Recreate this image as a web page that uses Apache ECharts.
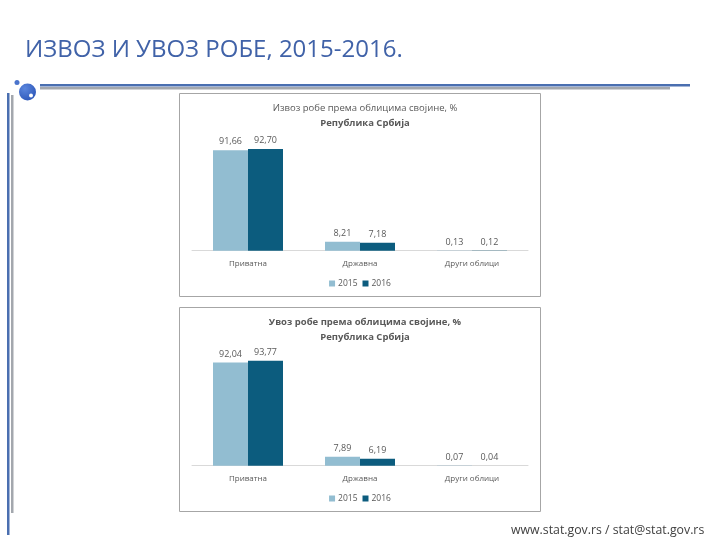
<!DOCTYPE html>
<html>
<head>
<meta charset="utf-8">
<script src="https://cdn.jsdelivr.net/npm/echarts@6/dist/echarts.min.js"></script>
<style>
html,body{margin:0;padding:0;background:#fff;}
#c{width:720px;height:540px;}
</style>
</head>
<body>
<div id="c"></div>
<script>
const categories = ['Приватна', 'Државна', 'Други облици'];
const seriesNames = ['2015', '2016'];
const export2015 = [91.66, 8.21, 0.13];
const export2016 = [92.70, 7.18, 0.12];
const import2015 = [92.04, 7.89, 0.07];
const import2016 = [93.77, 6.19, 0.04];

const C15 = '#92bdd1';
const C16 = '#0c5c7e';
const TXT = '#595959';
const FONT = '"Open Sans","Liberation Sans",sans-serif';

const chart = echarts.init(document.getElementById('c'));

function fmt(p){ return p.value.toFixed(2).replace('.', ','); }

function barSeries(name, data, idx, color){
  return {
    name: name, type: 'bar', data: data,
    xAxisIndex: idx, yAxisIndex: idx,
    barGap: '0%', barCategoryGap: '37.5%',
    itemStyle: {color: color},
    label: {show: true, position: 'top', distance: 4, formatter: fmt,
            color: TXT, fontSize: 9, fontFamily: FONT},
    emphasis: {disabled: true},
    animation: false
  };
}

function catAxis(idx){
  return {
    type: 'category', gridIndex: idx, data: categories,
    axisLine: {lineStyle: {color: '#d9d9d9', width: 1}},
    axisTick: {show: false},
    axisLabel: {color: TXT, fontSize: 8, margin: 9, fontFamily: FONT}
  };
}
function valAxis(idx){
  return {type: 'value', gridIndex: idx, min: 0, max: 100, show: false,
          splitLine: {show: false}};
}

function panelTitle(line1, bold1, topY){
  return {
    text: '{a|' + line1 + '}\n{b|Република Србија}',
    left: 360, textAlign: 'center', top: topY,
    textStyle: {
      rich: {
        a: {fontSize: 9.5, fontWeight: bold1 ? 'bold' : 'normal', color: TXT, fontFamily: FONT, lineHeight: 15},
        b: {fontSize: 9.5, fontWeight: 'bold', color: TXT, fontFamily: FONT, lineHeight: 15}
      }
    }
  };
}

function legendAt(topY){
  return {
    data: seriesNames, top: topY, left: 'center',
    itemWidth: 6, itemHeight: 6, itemGap: 5, icon: 'rect',
    textStyle: {color: TXT, fontSize: 8.5, fontFamily: FONT, padding: [0,0,0,-2]},
    selectedMode: false
  };
}

const option = {
  backgroundColor: '#ffffff',
  animation: false,
  title: [
    {text: 'ИЗВОЗ И УВОЗ РОБЕ, 2015-2016.', left: 20, top: 33,
     textStyle: {color: '#4062a8', fontSize: 24, fontWeight: 'normal', fontFamily: FONT}},
    panelTitle('Извоз робе према облицима својине, %', false, 96),
    panelTitle('Увоз робе према облицима својине, %', true, 310),
    {text: 'www.stat.gov.rs / stat@stat.gov.rs', left: 506, top: 519,
     textStyle: {color: '#404040', fontSize: 12.3, fontWeight: 'normal', fontFamily: FONT}}
  ],
  legend: [legendAt(274), legendAt(489)],
  grid: [
    {left: 192, width: 336, top: 141, height: 109.7},
    {left: 192, width: 336, top: 353.7, height: 112}
  ],
  xAxis: [catAxis(0), catAxis(1)],
  yAxis: [valAxis(0), valAxis(1)],
  series: [
    barSeries(seriesNames[0], export2015, 0, C15),
    barSeries(seriesNames[1], export2016, 0, C16),
    barSeries(seriesNames[0], import2015, 1, C15),
    barSeries(seriesNames[1], import2016, 1, C16)
  ],
  graphic: [
    {type: 'rect', z: -10, shape: {x: 179.5, y: 93.5, width: 361, height: 203},
     style: {fill: '#fff', stroke: '#a6a6a6', lineWidth: 1}},
    {type: 'rect', z: -10, shape: {x: 179.5, y: 307.5, width: 361, height: 204},
     style: {fill: '#fff', stroke: '#a6a6a6', lineWidth: 1}},
    {type: 'rect', shape: {x: 40, y: 87, width: 630, height: 2.5}, style: {fill: '#a3a7ad'}},
    {type: 'rect', shape: {x: 40, y: 84, width: 650, height: 2.5}, style: {fill: '#4a6fb0'}},
    {type: 'rect', shape: {x: 11, y: 95, width: 2.5, height: 418}, style: {fill: '#a3a7ad'}},
    {type: 'rect', shape: {x: 7, y: 93, width: 2.5, height: 442}, style: {fill: '#4a6fb0'}},
    {type: 'circle', shape: {cx: 27.5, cy: 92, r: 8.5},
     style: {fill: new echarts.graphic.RadialGradient(0.35, 0.3, 0.8,
       [{offset: 0, color: '#5b86dd'}, {offset: 1, color: '#2c56b8'}])}},
    {type: 'circle', shape: {cx: 17, cy: 82.5, r: 2.5}, style: {fill: '#4a74cc'}},
    {type: 'circle', shape: {cx: 31, cy: 95.5, r: 2}, style: {fill: '#ffffff'}}
  ]
};
chart.setOption(option);
</script>
</body>
</html>
